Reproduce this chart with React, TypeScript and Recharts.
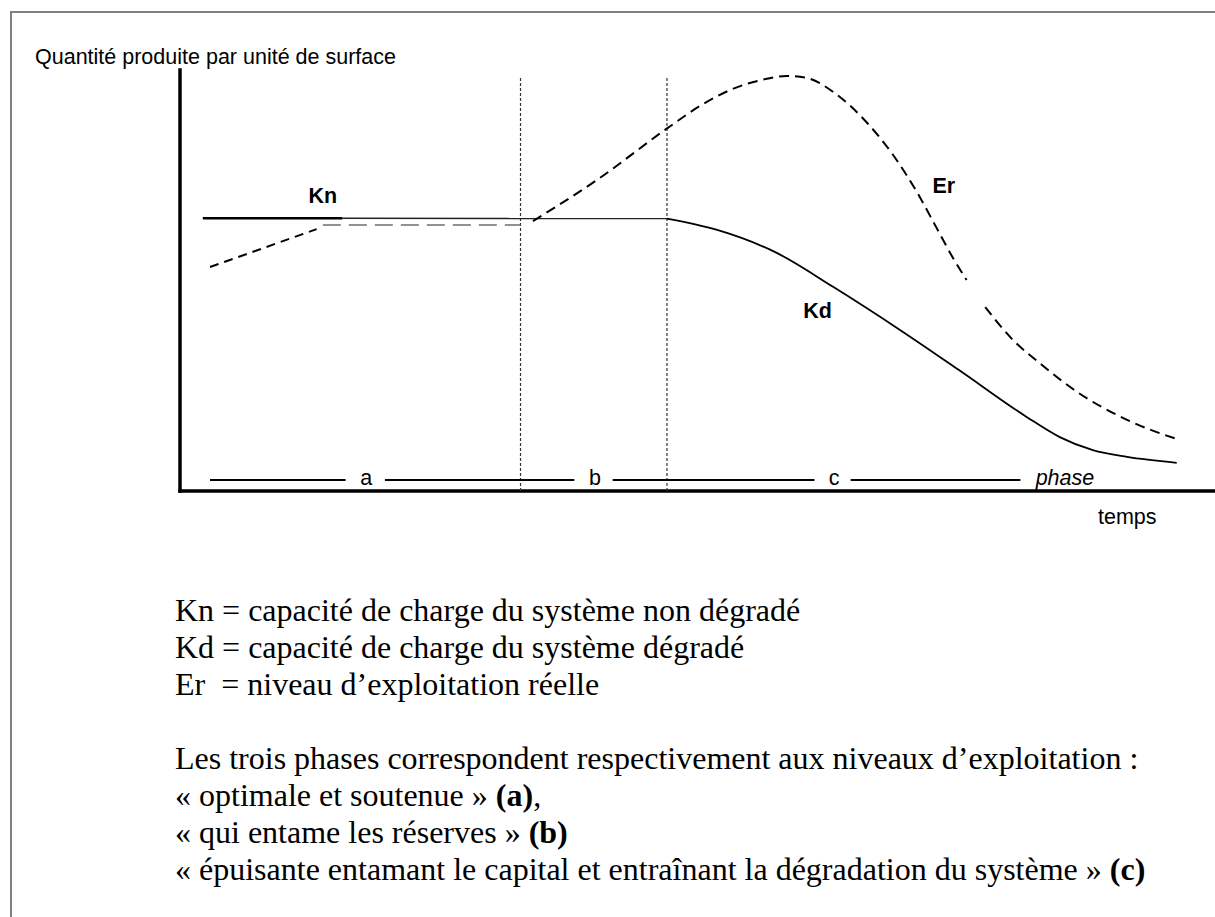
import { LineChart, Line, XAxis, YAxis, ReferenceLine, ReferenceDot } from 'recharts';

// time on x (0..100), quantity per surface unit on y (0..100)
const knThickTime = [2.2, 15.7];
const knThickValue = [64.8, 64.8];
const knThinTime = [15.7, 47.05];
const knThinValue = [64.8, 64.7];

const kdTime = [47.05, 51.9, 57.7, 63.1, 69.6, 75.4, 81.8, 85.0, 88.2, 91.5, 96.3];
const kdValue = [64.7, 62.0, 56.5, 48.5, 38.2, 28.5, 17.6, 12.8, 9.7, 8.1, 6.7];

const erStartTime = [2.9, 13.2];
const erStartValue = [53.2, 62.2];
const erPlateauTime = [13.8, 32.9];
const erPlateauValue = [63.2, 63.2];
const erTime = [34.1, 40.3, 47.1, 50.2, 53.4, 56.7, 58.6, 60.6, 63.1, 66.4, 68.9, 71.2, 73.1, 74.7, 76.0, 76.9, 77.8, 80.2, 83.4, 86.7, 91.5, 96.6];
const erValue = [64.1, 73.9, 86.2, 91.4, 95.5, 97.9, 98.6, 98.1, 94.8, 87.4, 79.8, 71.0, 62.5, 55.3, 50.1, null, 43.7, 36.6, 29.7, 23.5, 16.9, 12.1];

// phase boundaries (dotted verticals) and the phase bar
const phaseBounds = [32.9, 47.05];
const boundTop = 98.3;
const phaseBarY = 2.6;
const phaseBars = [[2.9, 16.0], [19.8, 38.1], [41.8, 61.3], [64.8, 81.2]];
const phaseNames = ['a', 'b', 'c'];
const phaseNameX = [18.0, 40.1, 63.2];
const phaseWordX = 85.5;
const phaseLabelY = 3.2;

const seriesNames = ['Kn', 'Kd', 'Er'];
const seriesLabelX = [13.8, 61.6, 73.8];
const seriesLabelY = [70.2, 42.9, 72.7];

const legendLines = [
  'Kn = capacité de charge du système non dégradé',
  'Kd = capacité de charge du système dégradé',
  'Er\u00a0 = niveau d\u2019exploitation réelle',
];

const toRows = (ts: number[], vs: (number | null)[]) => ts.map((t, i) => ({ t, v: vs[i] }));

const sans = '"Liberation Sans", Arial, sans-serif';
const serif = '"Liberation Serif", "Times New Roman", serif';

export default function App() {
  return (
    <div style={{ position: 'absolute', left: 0, top: 0, width: 1215, height: 917, background: '#fff', overflow: 'hidden' }}>
      <div
        style={{
          position: 'absolute',
          left: 10,
          top: 11,
          width: 1215,
          height: 917,
          borderTop: '2px solid #808080',
          borderLeft: '2px solid #808080',
        }}
      />

      <div style={{ position: 'absolute', left: 35, top: 47, fontFamily: sans, fontSize: 21.5, lineHeight: '21.5px', color: '#000', whiteSpace: 'nowrap' }}>
        Quantité produite par unité de surface
      </div>
      <div style={{ position: 'absolute', left: 1098, top: 507, fontFamily: sans, fontSize: 21.5, lineHeight: '21.5px', color: '#000' }}>
        temps
      </div>

      <div style={{ position: 'absolute', left: 0, top: 0 }}>
        <LineChart width={1215} height={560} margin={{ top: 70, right: 0, bottom: 69, left: 180 }}>
          <XAxis dataKey="t" type="number" domain={[0, 100]} hide />
          <YAxis type="number" domain={[0, 100]} hide />

          {/* axes drawn as heavy black lines */}
          <ReferenceLine segment={[{ x: 0, y: 0 }, { x: 0, y: 100 }]} stroke="#000" strokeWidth={3.5} strokeLinecap="square" />
          <ReferenceLine segment={[{ x: 0, y: 0 }, { x: 100, y: 0 }]} stroke="#000" strokeWidth={3.5} strokeLinecap="square" />

          {phaseBounds.map((x) => (
            <ReferenceLine
              key={`b${x}`}
              segment={[{ x, y: 0 }, { x, y: boundTop }]}
              stroke="#333"
              strokeWidth={1.2}
              strokeDasharray="3 2"
            />
          ))}

          {phaseBars.map(([x1, x2]) => (
            <ReferenceLine
              key={`p${x1}`}
              segment={[{ x: x1, y: phaseBarY }, { x: x2, y: phaseBarY }]}
              stroke="#000"
              strokeWidth={2}
            />
          ))}

          {phaseNames.map((n, i) => (
            <ReferenceDot
              key={n}
              x={phaseNameX[i]}
              y={phaseLabelY}
              r={0}
              fill="none"
              stroke="none"
              label={{ value: n, position: 'center', fill: '#000', fontSize: 21.5, fontFamily: sans }}
            />
          ))}
          <ReferenceDot
            x={phaseWordX}
            y={phaseLabelY}
            r={0}
            fill="none"
            stroke="none"
            label={{ value: 'phase', position: 'center', fill: '#000', fontSize: 21.5, fontFamily: sans, fontStyle: 'italic' }}
          />

          {seriesNames.map((n, i) => (
            <ReferenceDot
              key={n}
              x={seriesLabelX[i]}
              y={seriesLabelY[i]}
              r={0}
              fill="none"
              stroke="none"
              label={{ value: n, position: 'center', fill: '#000', fontSize: 21.5, fontWeight: 'bold', fontFamily: sans }}
            />
          ))}

          <Line data={toRows(knThickTime, knThickValue)} dataKey="v" type="linear" stroke="#000" strokeWidth={2.5} dot={false} activeDot={false} isAnimationActive={false} />
          <Line data={toRows(knThinTime, knThinValue)} dataKey="v" type="linear" stroke="#222" strokeWidth={1.5} dot={false} activeDot={false} isAnimationActive={false} />
          <Line data={toRows(kdTime, kdValue)} dataKey="v" type="monotone" stroke="#000" strokeWidth={1.8} dot={false} activeDot={false} isAnimationActive={false} />
          <Line data={toRows(erStartTime, erStartValue)} dataKey="v" type="linear" stroke="#000" strokeWidth={2} strokeDasharray="9 6" dot={false} activeDot={false} isAnimationActive={false} />
          <Line data={toRows(erPlateauTime, erPlateauValue)} dataKey="v" type="linear" stroke="#6e6e6e" strokeWidth={1.6} strokeDasharray="18 8" dot={false} activeDot={false} isAnimationActive={false} />
          <Line data={toRows(erTime, erValue)} dataKey="v" type="monotone" stroke="#000" strokeWidth={2} strokeDasharray="10 6" connectNulls={false} dot={false} activeDot={false} isAnimationActive={false} />
        </LineChart>
      </div>

      <div style={{ position: 'absolute', left: 175, top: 592, fontFamily: serif, fontSize: 32, lineHeight: '37px', color: '#000', whiteSpace: 'pre' }}>
        {legendLines.map((l) => (
          <div key={l}>{l}</div>
        ))}
        <div>{' '}</div>
        <div>Les trois phases correspondent respectivement aux niveaux d’exploitation :</div>
        <div>
          « optimale et soutenue » <b>(a)</b>,
        </div>
        <div>
          « qui entame les réserves » <b>(b)</b>
        </div>
        <div>
          « épuisante entamant le capital et entraînant la dégradation du système » <b>(c)</b>
        </div>
      </div>
    </div>
  );
}
